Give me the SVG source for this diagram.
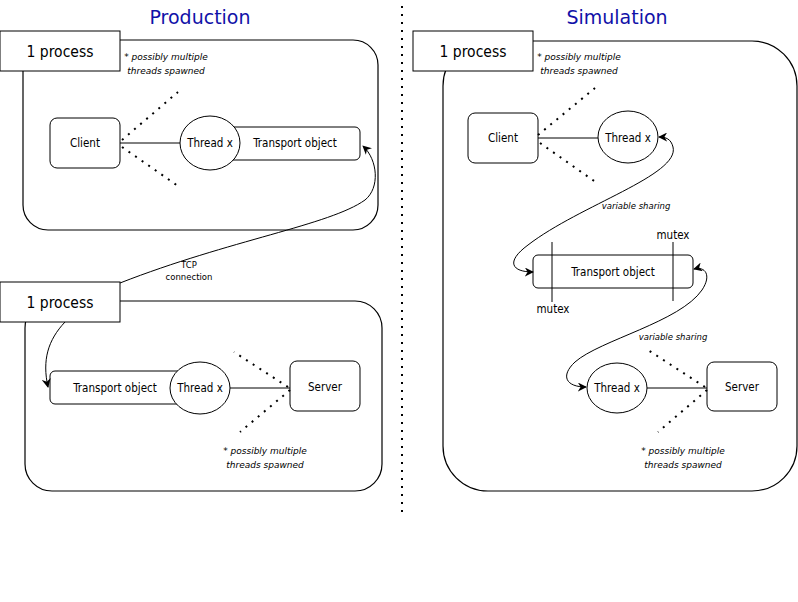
<svg xmlns="http://www.w3.org/2000/svg" width="798" height="602" viewBox="0 0 798 602">
<style>
  .box{fill:#fff;stroke:#000;stroke-width:1}
  .cont{fill:none;stroke:#000;stroke-width:1.2}
  .ln{fill:none;stroke:#000;stroke-width:1}
  .dot{fill:none;stroke:#000;stroke-width:2;stroke-dasharray:2 6}
  .t{font-family:"DejaVu Sans Condensed","DejaVu Sans",sans-serif;font-stretch:condensed;font-size:11.5px;fill:#000;text-anchor:middle}
  .p{font-family:"DejaVu Sans Condensed","DejaVu Sans",sans-serif;font-stretch:condensed;font-size:15.5px;fill:#000;text-anchor:middle}
  .i{font-family:"DejaVu Sans",Verdana,sans-serif;font-size:9px;font-style:italic;fill:#000;text-anchor:middle}
  .s{font-family:"DejaVu Sans",Verdana,sans-serif;font-size:8.5px;fill:#000;text-anchor:middle}
  .h{font-family:"DejaVu Sans",Verdana,sans-serif;font-size:19px;fill:#1111a8;text-anchor:middle}
</style>
<defs>
  <marker id="arr" viewBox="0 0 10 10" refX="9" refY="5" markerWidth="9" markerHeight="9" markerUnits="userSpaceOnUse" orient="auto-start-reverse">
    <path d="M0,0 L10,5 L0,10 L3,5 z" fill="#000"/>
  </marker>
</defs>
<rect width="798" height="602" fill="#fff"/>

<g id="titles">
  <text class="h" x="200" y="24">Production</text>
  <text class="h" x="617" y="24">Simulation</text>
</g>

<g id="divider">
  <line class="dot" x1="402" y1="6" x2="402" y2="512"/>
</g>

<g id="prod-process1">
  <rect class="cont" x="23" y="40" width="355" height="190" rx="25" ry="25"/>
  <rect class="box" x="0" y="31" width="120" height="40"/>
  <text class="p" x="60" y="57">1 process</text>
  <text class="i" x="166" y="60">* possibly multiple</text>
  <text class="i" x="166" y="74">threads spawned</text>
</g>
<g id="prod-client">
  <rect class="box" x="50" y="118" width="70" height="50" rx="7"/>
  <text class="t" x="85" y="147">Client</text>
</g>
<g id="prod-transport1">
  <rect class="box" x="205" y="127" width="155" height="33" rx="5"/>
  <text class="t" x="295" y="147">Transport object</text>
</g>
<g id="prod-thread1">
  <ellipse class="box" cx="210" cy="143" rx="30" ry="27"/>
  <text class="t" x="210" y="147">Thread x</text>
</g>

<g id="prod-process2">
  <rect class="cont" x="25" y="301" width="357" height="190" rx="27" ry="27"/>
  <rect class="box" x="0" y="282" width="120" height="40"/>
  <text class="p" x="60" y="308">1 process</text>
  <text class="i" x="265" y="454">* possibly multiple</text>
  <text class="i" x="265" y="468">threads spawned</text>
</g>
<g id="prod-transport2">
  <rect class="box" x="50" y="371" width="150" height="33" rx="5"/>
  <text class="t" x="115" y="392">Transport object</text>
</g>
<g id="prod-thread2">
  <ellipse class="box" cx="200" cy="388" rx="30" ry="26"/>
  <text class="t" x="200" y="392">Thread x</text>
</g>
<g id="prod-server">
  <rect class="box" x="290" y="361" width="70" height="50" rx="7"/>
  <text class="t" x="325" y="391">Server</text>
</g>

<g id="sim-process">
  <rect class="cont" x="443" y="41" width="354" height="450" rx="45" ry="45"/>
  <rect class="box" x="413" y="31" width="120" height="40"/>
  <text class="p" x="473" y="57">1 process</text>
  <text class="i" x="579" y="60">* possibly multiple</text>
  <text class="i" x="579" y="74">threads spawned</text>
  <text class="i" x="683" y="454">* possibly multiple</text>
  <text class="i" x="683" y="468">threads spawned</text>
</g>
<g id="sim-client">
  <rect class="box" x="468" y="113" width="70" height="50" rx="7"/>
  <text class="t" x="503" y="142">Client</text>
</g>
<g id="sim-thread1">
  <ellipse class="box" cx="628" cy="137" rx="30" ry="26"/>
  <text class="t" x="628" y="142">Thread x</text>
</g>
<g id="sim-transport">
  <rect class="box" x="533" y="255" width="160" height="33" rx="5"/>
  <text class="t" x="613" y="276">Transport object</text>
  <line class="ln" x1="552" y1="242" x2="552" y2="302"/>
  <line class="ln" x1="673" y1="242" x2="673" y2="301"/>
  <text class="t" x="673" y="239">mutex</text>
  <text class="t" x="553" y="313">mutex</text>
</g>
<g id="sim-thread2">
  <ellipse class="box" cx="617" cy="388" rx="30" ry="25"/>
  <text class="t" x="617" y="392">Thread x</text>
</g>
<g id="sim-server">
  <rect class="box" x="707" y="362" width="70" height="49" rx="7"/>
  <text class="t" x="742" y="391">Server</text>
</g>

<g id="connectors">
  <line class="ln" x1="120" y1="143" x2="180" y2="143"/>
  <line class="dot" x1="122" y1="140" x2="178" y2="92"/>
  <line class="dot" x1="122" y1="147" x2="178" y2="186"/>
  <line class="ln" x1="230" y1="388" x2="290" y2="388"/>
  <line class="dot" x1="288" y1="387" x2="234" y2="352"/>
  <line class="dot" x1="290" y1="390" x2="240" y2="432"/>
  <path class="ln" d="M120,283 C230,240 330,225 365,200 C380,188 378,160 363,146" marker-end="url(#arr)"/>
  <text class="s" x="189" y="268">TCP</text>
  <text class="s" x="189" y="280">connection</text>
  <path class="ln" d="M65,322 C48,340 42,360 48,387" marker-end="url(#arr)"/>

  <line class="ln" x1="538" y1="138" x2="598" y2="138"/>
  <line class="dot" x1="538" y1="135" x2="595" y2="88"/>
  <line class="dot" x1="540" y1="143" x2="597" y2="183"/>
  <line class="ln" x1="647" y1="388" x2="707" y2="388"/>
  <line class="dot" x1="705" y1="387" x2="648" y2="350"/>
  <line class="dot" x1="707" y1="390" x2="658" y2="432"/>
  <path class="ln" d="M533,272 C512,272 505,262 528,245 C580,205 680,175 673,147 C671,139 666,137 659,137" marker-start="url(#arr)" marker-end="url(#arr)"/>
  <text class="s" x="636" y="209" font-style="italic">variable sharing</text>
  <path class="ln" d="M694,269 C705,266 712,275 702,290 C680,322 600,340 575,362 C560,376 566,387 586,387" marker-start="url(#arr)" marker-end="url(#arr)"/>
  <text class="s" x="673" y="340" font-style="italic">variable sharing</text>
</g>
</svg>
